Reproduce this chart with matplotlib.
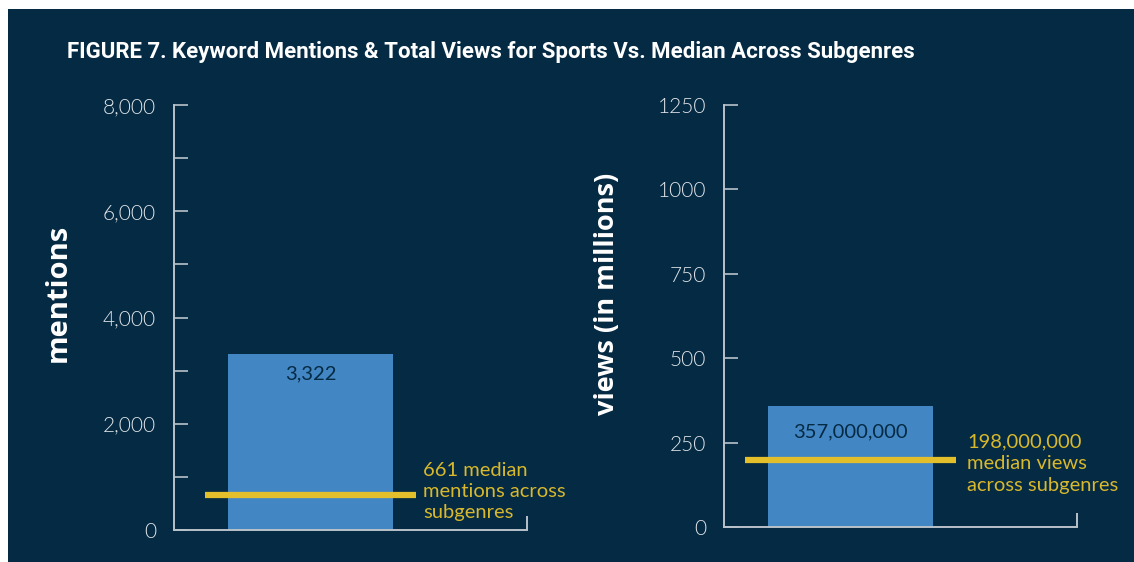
import matplotlib.pyplot as plt
from matplotlib.patches import Rectangle

# Sports vs. median across subgenres
mentions_sports = 3322
mentions_median = 661
views_sports = 357      # millions
views_median = 198      # millions

mention_ticks = [0, 1000, 2000, 3000, 4000, 5000, 6000, 7000, 8000]
view_ticks = [0, 250, 500, 750, 1000, 1250]

NAVY = "#052a43"
BAR = "#4286c4"
GOLD = "#e3c02b"
GOLD_TXT = "#d8b82c"
SPINE = "#b9c2ca"
TXT = "#e2e6ea"

fig = plt.figure(figsize=(11.34, 5.62), dpi=100, facecolor="white")
fig.patches.append(Rectangle((8 / 1134, 0), 1, 1 - 9 / 562, transform=fig.transFigure,
                             facecolor=NAVY, edgecolor="none", zorder=-10))

fig.text(67 / 1134, 1 - 52 / 562,
         "FIGURE 7. Keyword Mentions & Total Views for Sports Vs. Median Across Subgenres",
         family="Roboto", weight="bold", fontsize=16,
         color="white", va="center", ha="left")

ax1 = fig.add_axes([174 / 1134, 1 - 530 / 562, 353 / 1134, 425 / 562])
ax2 = fig.add_axes([724 / 1134, 1 - 527 / 562, 353 / 1134, 422 / 562])


def style(ax, ticks, labels, ylabel, label_xy, label_size):
    ax.set_facecolor("none")
    ax.set_xlim(0, 1)
    ax.set_ylim(0, ticks[-1])
    for s in ("top", "right"):
        ax.spines[s].set_visible(False)
    for s in ("left", "bottom"):
        ax.spines[s].set_color(SPINE)
        ax.spines[s].set_linewidth(1.4)
    ax.set_yticks(ticks)
    ax.set_yticklabels(labels)
    ax.tick_params(axis="y", direction="in", length=10, width=1.2, color=SPINE,
                   pad=13, labelsize=15, labelcolor=TXT)
    for t in ax.get_yticklabels():
        t.set_family("Lato")
        t.set_fontweight(300)
    ax.set_xticks([1])
    ax.set_xticklabels([])
    ax.tick_params(axis="x", direction="in", length=10, width=1.4, color=SPINE)
    ax.set_ylabel(ylabel, family="Open Sans", weight="bold", fontsize=label_size,
                  color="white")
    ax.yaxis.set_label_coords(*label_xy)


style(ax1, mention_ticks,
      [f"{v:,}" if v % 2000 == 0 else "" for v in mention_ticks],
      "mentions", (-0.286, 0.558), 21)
style(ax2, view_ticks, [str(v) for v in view_ticks], "views (in millions)",
      (-0.295, 0.553), 19.5)

# mentions
ax1.bar(0.3867, mentions_sports, width=0.467, color=BAR, zorder=2)
ax1.annotate(f"{mentions_sports:,}", (0.3867, mentions_sports), xytext=(0, -15),
             textcoords="offset points", ha="center", va="center",
             family="Lato", fontsize=14.5, color=NAVY)
ax1.plot([0.088, 0.686], [mentions_median] * 2, color=GOLD, lw=4.5,
         solid_capstyle="butt", zorder=3)
ax1.text(0.705, mentions_median + 60, f"{mentions_median} median\nmentions across\nsubgenres",
         family="Lato", fontsize=14.5, color=GOLD_TXT, va="center", ha="left",
         linespacing=1.3)

# views
ax2.bar(0.358, views_sports, width=0.467, color=BAR, zorder=2)
ax2.annotate(f"{views_sports * 1_000_000:,}", (0.358, views_sports), xytext=(0, -18),
             textcoords="offset points", ha="center", va="center",
             family="Lato", fontsize=14.5, color=NAVY)
ax2.plot([0.06, 0.657], [views_median] * 2, color=GOLD, lw=4.5,
         solid_capstyle="butt", zorder=3)
ax2.text(0.688, views_median - 11, f"{views_median * 1_000_000:,}\nmedian views\nacross subgenres",
         family="Lato", fontsize=14.5, color=GOLD_TXT, va="center", ha="left",
         linespacing=1.33)

fig.savefig("out.png", dpi=100, facecolor="white")
